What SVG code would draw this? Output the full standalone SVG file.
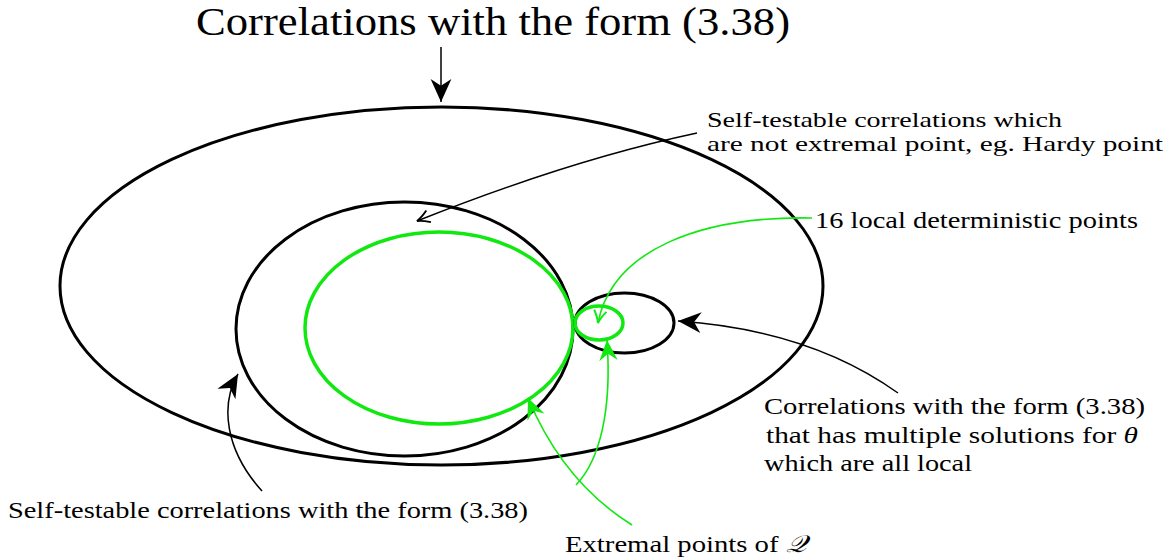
<svg xmlns="http://www.w3.org/2000/svg" width="1175" height="560" viewBox="0 0 1175 560">
<style>
.blk{fill:none;stroke:#000;stroke-width:3}
.grn{fill:none;stroke:#10e810;stroke-width:3.5}
.cb{fill:none;stroke:#000;stroke-width:1.5}
.cg{fill:none;stroke:#10e810;stroke-width:1.6}
</style>
<defs>
<marker id="sb" markerUnits="userSpaceOnUse" markerWidth="30" markerHeight="30" refX="0" refY="0" viewBox="-22 -11 26 22" orient="auto" overflow="visible">
<path d="M0,0 L-20,-9 L-14,0 L-20,9 Z" fill="#000"/>
</marker>
<marker id="sg" markerUnits="userSpaceOnUse" markerWidth="30" markerHeight="30" refX="0" refY="0" viewBox="-22 -11 26 22" orient="auto" overflow="visible">
<path d="M0,0 L-18,-8 L-12,0 L-18,8 Z" fill="#10e810"/>
</marker>
<marker id="ob" markerUnits="userSpaceOnUse" markerWidth="20" markerHeight="20" refX="0" refY="0" viewBox="-12 -8 14 16" orient="auto" overflow="visible">
<path d="M-10,-5 Q-4,-1 0,0 Q-4,1 -10,5" fill="none" stroke="#000" stroke-width="1.5"/>
</marker>
<marker id="og" markerUnits="userSpaceOnUse" markerWidth="20" markerHeight="20" refX="0" refY="0" viewBox="-12 -8 14 16" orient="auto" overflow="visible">
<path d="M-10,-5 Q-4,-1 0,0 Q-4,1 -10,5" fill="none" stroke="#10e810" stroke-width="1.6"/>
</marker>
</defs>
<g id="outer"><ellipse class="blk" cx="441.5" cy="286" rx="381.5" ry="179"/></g>
<g id="selftest"><ellipse class="blk" cx="404.5" cy="329" rx="168.5" ry="127"/></g>
<g id="extremal"><ellipse class="grn" cx="439" cy="328" rx="134" ry="96"/></g>
<g id="multi"><ellipse class="blk" cx="624.5" cy="323" rx="49.5" ry="30"/></g>
<g id="local"><ellipse class="grn" cx="599" cy="323" rx="24" ry="17"/></g>
<g id="labels" font-family="'Liberation Serif', serif" font-size="24" fill="#000">
<text x="196" y="35" font-size="40" textLength="594" lengthAdjust="spacingAndGlyphs">Correlations with the form (3.38)</text>
<text x="707" y="127" font-size="22" textLength="355" lengthAdjust="spacingAndGlyphs">Self-testable correlations which</text>
<text x="707" y="151" font-size="22" textLength="456" lengthAdjust="spacingAndGlyphs">are not extremal point, eg. Hardy point</text>
<text x="815" y="228" textLength="323" lengthAdjust="spacingAndGlyphs">16 local deterministic points</text>
<text x="764" y="414" textLength="381" lengthAdjust="spacingAndGlyphs">Correlations with the form (3.38)</text>
<text x="766" y="443" textLength="372" lengthAdjust="spacingAndGlyphs">that has multiple solutions for <tspan font-style="italic">θ</tspan></text>
<text x="764" y="471" textLength="208" lengthAdjust="spacingAndGlyphs">which are all local</text>
<text x="8" y="518" textLength="520" lengthAdjust="spacingAndGlyphs">Self-testable correlations with the form (3.38)</text>
<text x="565" y="552" textLength="241" lengthAdjust="spacingAndGlyphs">Extremal points of <tspan font-family="'DejaVu Serif', serif" font-style="italic">𝒬</tspan></text>
</g>
<g id="connectors">
<path class="cb" d="M441,47 L441,102" marker-end="url(#sb)"/>
<path class="cb" d="M697,133 Q570,160 417,221" marker-end="url(#ob)"/>
<path class="cg" d="M812,218 C700,216 612,250 598,323" marker-end="url(#og)"/>
<path class="cb" d="M898,393 Q810,330 678,321" marker-end="url(#sb)"/>
<path class="cb" d="M262,491 C225,450 220,405 238,374" marker-end="url(#sb)"/>
<path class="cg" d="M632,525 C600,505 558,470 528,398" marker-end="url(#sg)"/>
<path class="cg" d="M576,485 C600,460 612,410 607,340" marker-end="url(#sg)"/>
</g>
</svg>
